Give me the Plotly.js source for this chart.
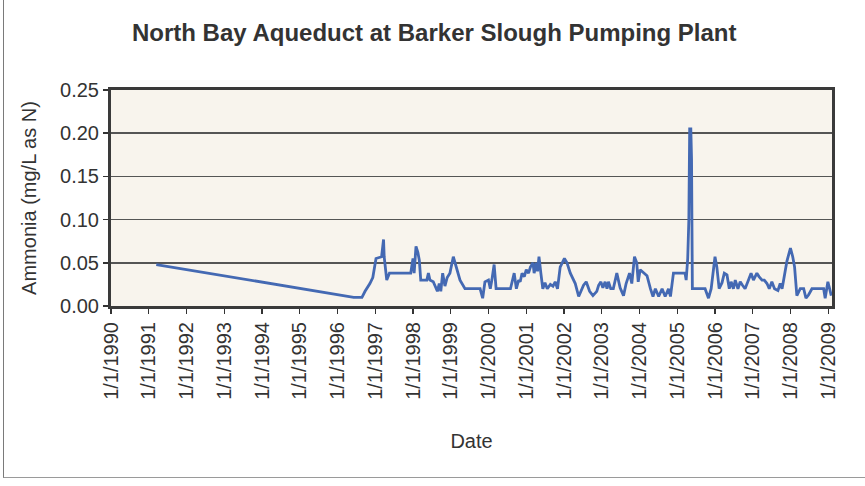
<!DOCTYPE html>
<html>
<head>
<meta charset="utf-8">
<script src="https://cdn.plot.ly/plotly-3.0.1.min.js"></script>
<style>
  html, body { margin: 0; padding: 0; background: #ffffff; }
  #chart { position: absolute; left: 0; top: 0; width: 865px; height: 486px; }
  #frame { position: absolute; left: 3px; top: -2px; width: 870px; height: 479px;
           border-left: 1.5px solid #7a7a7a; border-bottom: 1.5px solid #9a9a9a;
           pointer-events: none; }
</style>
</head>
<body>
<div id="chart"></div>
<div id="frame"></div>
<script>
// Sample dates (approximate)
const sampleDates = [
  "1991-03-15", "1996-06-06", "1996-08-25", "1996-09-24", "1996-11-10", "1996-12-08",
  "1997-01-08", "1997-03-03", "1997-03-22", "1997-03-28", "1997-04-22", "1997-05-18",
  "1997-12-10", "1998-01-01", "1998-01-12", "1998-01-30", "1998-02-17", "1998-03-03",
  "1998-03-17", "1998-05-15", "1998-05-30", "1998-06-14", "1998-07-16", "1998-08-25",
  "1998-09-12", "1998-09-27", "1998-10-15", "1998-11-06", "1998-11-28", "1998-12-24",
  "1999-01-26", "1999-02-21", "1999-04-01", "1999-05-19", "1999-10-12", "1999-11-06",
  "1999-11-28", "2000-01-01", "2000-01-19", "2000-02-03", "2000-02-25", "2000-03-15",
  "2000-08-01", "2000-09-06", "2000-09-27", "2000-10-19", "2000-11-03", "2000-11-21",
  "2000-12-13", "2001-01-01", "2001-01-23", "2001-02-10", "2001-03-07", "2001-03-18",
  "2001-04-09", "2001-04-20", "2001-05-04", "2001-05-22", "2001-06-10", "2001-07-01",
  "2001-07-23", "2001-08-22", "2001-09-16", "2001-10-08", "2001-10-30", "2001-11-25",
  "2002-01-05", "2002-01-30", "2002-03-03", "2002-04-20", "2002-05-23", "2002-07-09",
  "2002-08-04", "2002-09-06", "2002-10-08", "2002-11-14", "2002-12-02", "2002-12-24",
  "2003-01-12", "2003-02-03", "2003-02-21", "2003-03-07", "2003-03-29", "2003-04-23",
  "2003-05-27", "2003-06-28", "2003-07-31", "2003-08-25", "2003-09-27", "2003-10-19",
  "2003-11-14", "2003-12-06", "2003-12-20", "2004-01-08", "2004-02-10", "2004-03-14",
  "2004-04-16", "2004-05-11", "2004-06-03", "2004-07-05", "2004-08-07", "2004-09-06",
  "2004-10-08", "2004-10-27", "2004-11-25", "2005-03-17", "2005-03-28", "2005-04-12",
  "2005-04-23", "2005-05-01", "2005-05-12", "2005-05-19", "2005-05-27", "2005-09-27",
  "2005-10-30", "2005-11-25", "2006-01-01", "2006-01-19", "2006-02-10", "2006-03-10",
  "2006-04-01", "2006-04-27", "2006-05-19", "2006-06-06", "2006-06-28", "2006-07-16",
  "2006-08-11", "2006-09-02", "2006-09-24", "2006-10-19", "2006-11-21", "2006-12-16",
  "2007-01-08", "2007-02-10", "2007-03-03", "2007-04-01", "2007-04-23", "2007-05-19",
  "2007-06-10", "2007-07-05", "2007-07-31", "2007-09-02", "2007-09-24", "2007-10-12",
  "2007-10-27", "2007-11-28", "2008-01-01", "2008-01-23", "2008-02-10", "2008-03-03",
  "2008-04-05", "2008-05-08", "2008-05-30", "2008-06-25", "2008-07-27", "2008-11-17",
  "2008-12-02", "2008-12-28", "2009-01-12", "2009-01-30"
];

// Ammonia (mg/L as N)
const ammonia = [
  0.048, 0.010, 0.010, 0.017, 0.026, 0.033,
  0.055, 0.057, 0.077, 0.057, 0.030, 0.038,
  0.038, 0.055, 0.038, 0.069, 0.062, 0.053,
  0.030, 0.030, 0.038, 0.030, 0.028, 0.017,
  0.026, 0.017, 0.038, 0.023, 0.033, 0.038,
  0.057, 0.045, 0.030, 0.020, 0.020, 0.009,
  0.028, 0.030, 0.020, 0.030, 0.048, 0.020,
  0.020, 0.038, 0.020, 0.030, 0.028, 0.038,
  0.034, 0.042, 0.038, 0.045, 0.050, 0.038,
  0.050, 0.040, 0.057, 0.038, 0.020, 0.027,
  0.020, 0.025, 0.023, 0.028, 0.020, 0.045,
  0.055, 0.050, 0.038, 0.026, 0.011, 0.024,
  0.028, 0.017, 0.012, 0.017, 0.024, 0.028,
  0.021, 0.028, 0.020, 0.028, 0.020, 0.020,
  0.038, 0.021, 0.012, 0.026, 0.038, 0.026,
  0.057, 0.050, 0.028, 0.042, 0.038, 0.035,
  0.020, 0.011, 0.020, 0.011, 0.020, 0.011,
  0.020, 0.011, 0.038, 0.038, 0.030, 0.055,
  0.100, 0.205, 0.205, 0.170, 0.020, 0.020,
  0.009, 0.020, 0.057, 0.045, 0.020, 0.027,
  0.038, 0.036, 0.020, 0.028, 0.020, 0.030,
  0.020, 0.028, 0.024, 0.020, 0.030, 0.038,
  0.030, 0.038, 0.034, 0.030, 0.030, 0.026,
  0.020, 0.028, 0.020, 0.018, 0.026, 0.020,
  0.030, 0.052, 0.067, 0.057, 0.045, 0.012,
  0.020, 0.020, 0.009, 0.013, 0.020, 0.020,
  0.009, 0.028, 0.021, 0.012
];

const tickDates = ["1990-01-01","1991-01-01","1992-01-01","1993-01-01","1994-01-01",
  "1995-01-01","1996-01-01","1997-01-01","1998-01-01","1999-01-01","2000-01-01",
  "2001-01-01","2002-01-01","2003-01-01","2004-01-01","2005-01-01","2006-01-01",
  "2007-01-01","2008-01-01","2009-01-01"];
const tickLabels = ["1/1/1990","1/1/1991","1/1/1992","1/1/1993","1/1/1994",
  "1/1/1995","1/1/1996","1/1/1997","1/1/1998","1/1/1999","1/1/2000",
  "1/1/2001","1/1/2002","1/1/2003","1/1/2004","1/1/2005","1/1/2006",
  "1/1/2007","1/1/2008","1/1/2009"];
const yTicks = [0, 0.05, 0.10, 0.15, 0.20, 0.25];

const FONT = '"Liberation Sans", Arial, sans-serif';

const trace = {
  type: 'scatter',
  mode: 'lines',
  x: sampleDates,
  y: ammonia,
  line: { color: '#4469b3', width: 2.8 },
  hoverinfo: 'skip'
};

const layout = {
  width: 865,
  height: 486,
  margin: { l: 111, r: 33, t: 90, b: 180 },
  paper_bgcolor: '#ffffff',
  plot_bgcolor: '#f8f4ed',
  showlegend: false,
  font: { family: FONT, color: '#333333', size: 20 },
  title: {
    text: 'North Bay Aqueduct at Barker Slough Pumping Plant',
    font: { family: FONT, size: 24, color: '#333333', weight: 'bold' },
    xref: 'container', x: 0.502, xanchor: 'center',
    yref: 'container', y: 1 - 33/486, yanchor: 'middle'
  },
  xaxis: {
    type: 'date',
    range: ['1990-01-01', '2009-02-06'],
    tickmode: 'array',
    tickvals: tickDates,
    ticktext: tickLabels,
    tickangle: -90,
    ticks: 'outside',
    ticklen: 5,
    tickwidth: 1.5,
    tickcolor: '#333333',
    tickfont: { family: FONT, size: 20, color: '#333333' },
    showgrid: false,
    zeroline: false,
    showline: true,
    linecolor: '#3a3a3a',
    linewidth: 3,
    mirror: true,
    title: { text: 'Date', font: { family: FONT, size: 20, color: '#333333' }, standoff: 36 }
  },
  yaxis: {
    range: [0, 0.25],
    tickmode: 'array',
    tickvals: yTicks,
    tickformat: '.2f',
    ticks: 'outside',
    ticklen: 5,
    tickwidth: 1.5,
    tickcolor: '#333333',
    tickfont: { family: FONT, size: 20, color: '#333333' },
    showgrid: true,
    gridcolor: '#555555',
    gridwidth: 1.7,
    zeroline: false,
    showline: true,
    linecolor: '#3a3a3a',
    linewidth: 3,
    mirror: true,
    title: { text: 'Ammonia (mg/L as N)', font: { family: FONT, size: 20, color: '#333333' }, standoff: 19 }
  }
};

Plotly.newPlot('chart', [trace], layout, { displayModeBar: false, staticPlot: true });
</script>
</body>
</html>
